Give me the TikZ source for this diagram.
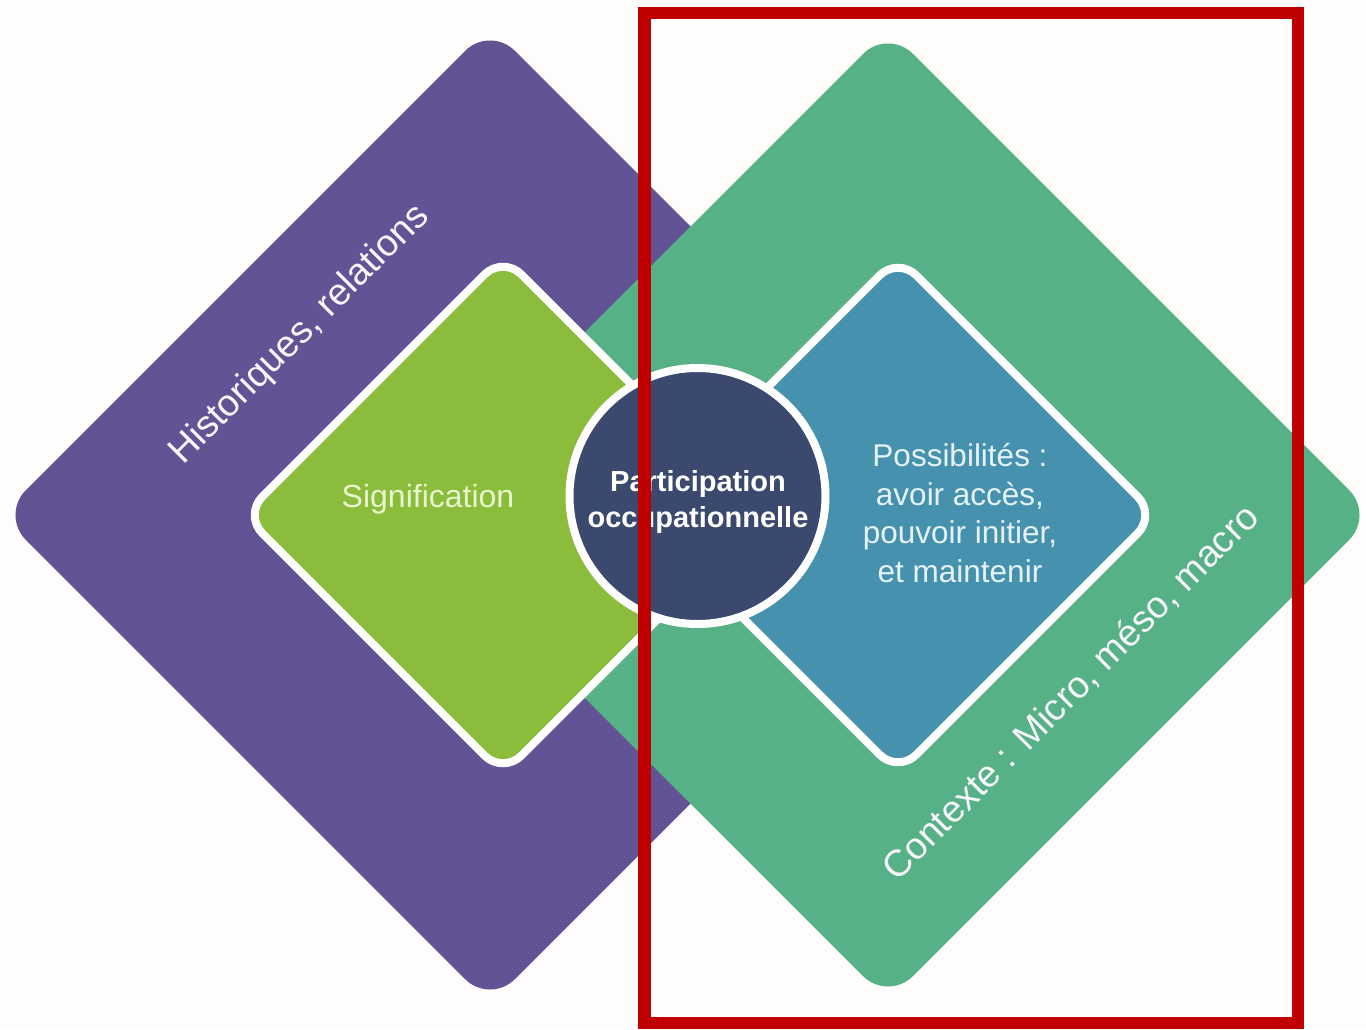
\documentclass[tikz,border=0pt]{standalone}
\usepackage{fontspec}
\setmainfont{Liberation Sans}
\usetikzlibrary{shapes.geometric}
\definecolor{bgc}{HTML}{FEFDFB}
\definecolor{purpc}{HTML}{625494}
\definecolor{grnc}{HTML}{57B186}
\definecolor{limec}{HTML}{8BBC3B}
\definecolor{tealc}{HTML}{4691AD}
\definecolor{navyc}{HTML}{3A496D}
\definecolor{redframe}{HTML}{C00000}
\definecolor{limetext}{HTML}{E8F5CF}
\definecolor{tealtext}{HTML}{E6F3F6}
\definecolor{labeltext}{HTML}{F7F6FB}
\begin{document}
\begin{tikzpicture}[x=1pt,y=-1pt,
  bigdia/.style={diamond, aspect=1, inner sep=0pt, outer sep=0pt, rounded corners=35pt, minimum width=#1, minimum height=#1},
  innerdia/.style={diamond, aspect=1, inner sep=0pt, outer sep=0pt, rounded corners=26pt, draw=white, line width=8pt, minimum width=#1, minimum height=#1},
  edgelabel/.style={text=labeltext, inner sep=0pt, rotate=45, font=\fontsize{37.5}{44}\selectfont},
  boxtext/.style={align=center, inner sep=0pt}
]
\useasboundingbox (0,0) rectangle (1366,1029);
\fill[bgc] (0,0) rectangle (1366,1029);
% large diamonds
\node[bigdia=978pt, fill=purpc] (hist) at (490,515) {};
\node[bigdia=972pt, fill=grnc] (ctx) at (888,515) {};
% inner diamonds
\node[innerdia=518pt, fill=limec] (sig) at (503,515) {};
\node[innerdia=516pt, fill=tealc] (poss) at (898,515) {};
% centre circle
\node[circle, inner sep=0pt, minimum size=256pt, fill=navyc, draw=white, line width=8pt] (part) at (697.5,496) {};
% labels
\node[edgelabel] (histlabel) at (300,335) {Historiques, relations};
\node[edgelabel] (ctxlabel) at (1071,693) {Contexte : Micro, méso, macro};
\node[anchor=base, inner sep=0pt, text=limetext, font=\fontsize{32}{36}\selectfont] (siglabel) at (428,507) {Signification};
\node[boxtext, text=tealtext, font=\fontsize{31.5}{38.7}\selectfont] (posslabel) at (960,513) {Possibilités :\\avoir accès,\\pouvoir initier,\\et maintenir};
\node[boxtext, text=white, font=\bfseries\fontsize{29}{36}\selectfont] (partlabel) at (698,501.5) {Participation\\occupationnelle};
% red frame
\node[draw=redframe, line width=12.5pt, inner sep=0pt, outer sep=0pt, minimum width=653.5pt, minimum height=1010pt] (frame) at (971.25,518) {};
\end{tikzpicture}
\end{document}
